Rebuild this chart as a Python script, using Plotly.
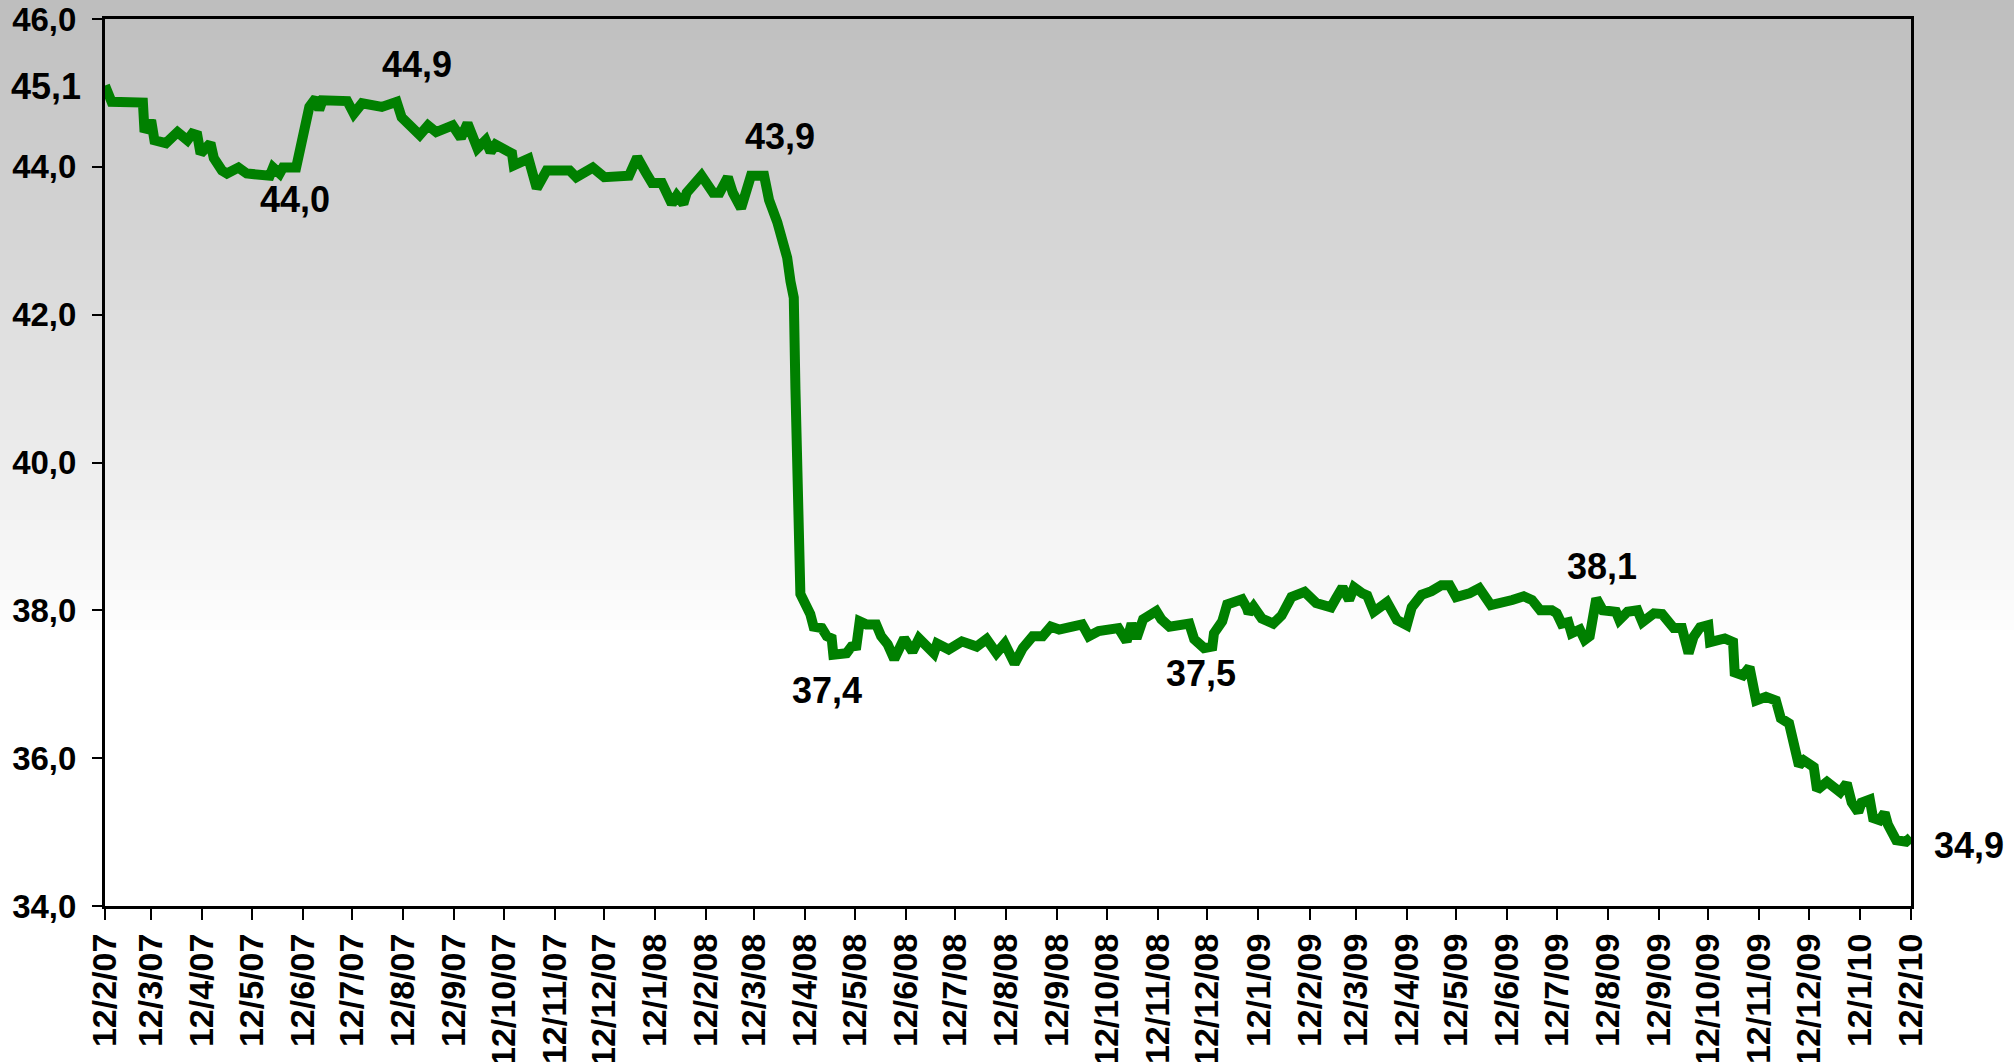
import plotly.graph_objects as go
import pandas as pd

# ---- data ----
dates = [
    "2007-02-12", "2007-02-16", "2007-03-07", "2007-03-08", "2007-03-12", "2007-03-14", "2007-03-21",
    "2007-03-28", "2007-04-03", "2007-04-06", "2007-04-09", "2007-04-11", "2007-04-17", "2007-04-19",
    "2007-04-24", "2007-04-27", "2007-05-04", "2007-05-09", "2007-05-23", "2007-05-25", "2007-05-29",
    "2007-05-31", "2007-06-08", "2007-06-12", "2007-06-16", "2007-06-20", "2007-06-22", "2007-06-24",
    "2007-07-09", "2007-07-13", "2007-07-18", "2007-07-30", "2007-08-08", "2007-08-11", "2007-08-19",
    "2007-08-22", "2007-08-27", "2007-09-01", "2007-09-11", "2007-09-16", "2007-09-20", "2007-09-26",
    "2007-10-01", "2007-10-04", "2007-10-07", "2007-10-17", "2007-10-18", "2007-10-27", "2007-11-01",
    "2007-11-07", "2007-11-21", "2007-11-25", "2007-12-05", "2007-12-12", "2007-12-27", "2008-01-01",
    "2008-01-06", "2008-01-10", "2008-01-16", "2008-01-22", "2008-01-25", "2008-01-29", "2008-01-31",
    "2008-02-09", "2008-02-16", "2008-02-20", "2008-02-25", "2008-02-28", "2008-03-04", "2008-03-10",
    "2008-03-18", "2008-03-21", "2008-03-26", "2008-03-28", "2008-04-01", "2008-04-03", "2008-04-05",
    "2008-04-06", "2008-04-07", "2008-04-08", "2008-04-09", "2008-04-15", "2008-04-17", "2008-04-22",
    "2008-04-25", "2008-04-28", "2008-04-29", "2008-05-07", "2008-05-10", "2008-05-13", "2008-05-15",
    "2008-05-19", "2008-05-25", "2008-05-28", "2008-06-01", "2008-06-05", "2008-06-11", "2008-06-16",
    "2008-06-20", "2008-06-29", "2008-07-01", "2008-07-08", "2008-07-16", "2008-07-25", "2008-07-31",
    "2008-08-06", "2008-08-11", "2008-08-17", "2008-08-22", "2008-08-28", "2008-09-03", "2008-09-08",
    "2008-09-13", "2008-09-21", "2008-09-27", "2008-10-01", "2008-10-07", "2008-10-19", "2008-10-24",
    "2008-10-27", "2008-10-30", "2008-11-03", "2008-11-11", "2008-11-14", "2008-11-19", "2008-12-01",
    "2008-12-04", "2008-12-10", "2008-12-15", "2008-12-16", "2008-12-21", "2008-12-24", "2009-01-02",
    "2009-01-05", "2009-01-06", "2009-01-09", "2009-01-14", "2009-01-21", "2009-01-26", "2009-02-01",
    "2009-02-09", "2009-02-16", "2009-02-25", "2009-02-28", "2009-03-04", "2009-03-08", "2009-03-11",
    "2009-03-16", "2009-03-19", "2009-03-23", "2009-03-31", "2009-04-06", "2009-04-12", "2009-04-15",
    "2009-04-21", "2009-04-27", "2009-05-03", "2009-05-08", "2009-05-12", "2009-05-20", "2009-05-26",
    "2009-06-02", "2009-06-09", "2009-06-15", "2009-06-22", "2009-06-27", "2009-07-02", "2009-07-09",
    "2009-07-12", "2009-07-15", "2009-07-19", "2009-07-21", "2009-07-26", "2009-07-29", "2009-08-01",
    "2009-08-05", "2009-08-09", "2009-08-17", "2009-08-19", "2009-08-24", "2009-08-30", "2009-09-02",
    "2009-09-09", "2009-09-14", "2009-09-21", "2009-09-26", "2009-09-30", "2009-10-03", "2009-10-07",
    "2009-10-12", "2009-10-13", "2009-10-22", "2009-10-27", "2009-10-28", "2009-11-02", "2009-11-06",
    "2009-11-10", "2009-11-16", "2009-11-22", "2009-11-25", "2009-11-30", "2009-12-03", "2009-12-06",
    "2009-12-09", "2009-12-15", "2009-12-17", "2009-12-23", "2009-12-31", "2010-01-04", "2010-01-07",
    "2010-01-11", "2010-01-13", "2010-01-18", "2010-01-20", "2010-01-24", "2010-01-27", "2010-01-29",
    "2010-02-03", "2010-02-09", "2010-02-12",
]

values = [
    45.10, 44.88, 44.87, 44.47, 44.63, 44.36, 44.32,
    44.47, 44.36, 44.45, 44.43, 44.18, 44.32, 44.12,
    43.95, 43.91, 43.99, 43.91, 43.88, 43.99, 43.91,
    43.99, 43.99, 44.40, 44.81, 44.93, 44.77, 44.90,
    44.89, 44.72, 44.86, 44.81, 44.88, 44.67, 44.47,
    44.43, 44.56, 44.47, 44.56, 44.39, 44.59, 44.25,
    44.36, 44.20, 44.30, 44.18, 44.02, 44.11, 43.71,
    43.95, 43.95, 43.86, 43.99, 43.86, 43.88, 44.13,
    43.93, 43.78, 43.78, 43.50, 43.61, 43.50, 43.65,
    43.88, 43.65, 43.65, 43.86, 43.65, 43.44, 43.88,
    43.88, 43.55, 43.25, 43.11, 42.77, 42.45, 42.23,
    41.00, 39.20, 38.60, 38.22, 37.95, 37.78, 37.76,
    37.65, 37.62, 37.40, 37.42, 37.51, 37.52, 37.85,
    37.81, 37.81, 37.65, 37.54, 37.34, 37.62, 37.44,
    37.62, 37.42, 37.55, 37.47, 37.58, 37.51, 37.61,
    37.42, 37.55, 37.28, 37.49, 37.65, 37.65, 37.78,
    37.74, 37.78, 37.81, 37.65, 37.72, 37.76, 37.58,
    37.82, 37.62, 37.88, 37.99, 37.88, 37.78, 37.82,
    37.61, 37.49, 37.51, 37.69, 37.85, 38.08, 38.15,
    38.03, 37.96, 38.05, 37.89, 37.82, 37.93, 38.18,
    38.25, 38.10, 38.04, 38.16, 38.31, 38.14, 38.31,
    38.23, 38.20, 37.98, 38.11, 37.87, 37.80, 38.04,
    38.21, 38.26, 38.34, 38.34, 38.18, 38.23, 38.30,
    38.07, 38.09, 38.14, 38.19, 38.14, 38.00, 38.00,
    37.96, 37.82, 37.84, 37.69, 37.74, 37.60, 37.65,
    38.16, 38.00, 37.98, 37.87, 37.98, 38.00, 37.84,
    37.96, 37.95, 37.76, 37.76, 37.42, 37.64, 37.77,
    37.80, 37.57, 37.62, 37.57, 37.16, 37.12, 37.23,
    36.78, 36.83, 36.78, 36.54, 36.47, 36.15, 35.90,
    35.97, 35.88, 35.57, 35.68, 35.54, 35.66, 35.40,
    35.27, 35.40, 35.44, 35.19, 35.16, 35.26, 35.10,
    34.89, 34.87, 34.93,
]

tick_labels = [
    "12/2/07", "12/3/07", "12/4/07", "12/5/07", "12/6/07", "12/7/07", "12/8/07", "12/9/07",
    "12/10/07", "12/11/07", "12/12/07", "12/1/08", "12/2/08", "12/3/08", "12/4/08", "12/5/08",
    "12/6/08", "12/7/08", "12/8/08", "12/9/08", "12/10/08", "12/11/08", "12/12/08", "12/1/09",
    "12/2/09", "12/3/09", "12/4/09", "12/5/09", "12/6/09", "12/7/09", "12/8/09", "12/9/09",
    "12/10/09", "12/11/09", "12/12/09", "12/1/10", "12/2/10",
]
tick_dates = pd.to_datetime(tick_labels, format="%d/%m/%y")

y_ticks = [34, 36, 38, 40, 42, 44, 46]

label_texts = ["45,1", "44,0", "44,9", "43,9", "37,4", "37,5", "38,1", "34,9"]
label_pos = [  # paper coordinates (x, y, xanchor)
    (-0.012, 0.924, "right"),
    (0.105, 0.797, "center"),
    (0.173, 0.949, "center"),
    (0.374, 0.867, "center"),
    (0.400, 0.2424, "center"),
    (0.607, 0.2616, "center"),
    (0.829, 0.383, "center"),
    (1.0115, 0.068, "left"),
]

FONT = "Liberation Sans, Arial, sans-serif"

fig = go.Figure()
fig.add_trace(go.Scatter(
    x=pd.to_datetime(dates), y=values, mode="lines",
    line=dict(color="#008000", width=10), hoverinfo="skip", showlegend=False,
))

# background gradient (gray at top fading to white)
shapes = []
W, H = 2014, 1062
top_px, bot_px = 19, 906
n_bands = 64
grad_end = 640
for i in range(n_bands):
    p0 = i * grad_end / n_bands
    p1 = (i + 1) * grad_end / n_bands + 0.6
    t = (p0 + p1) / 2 / grad_end
    c = int(round(189 + (255 - 189) * t))
    shapes.append(dict(
        type="rect", xref="paper", yref="paper", layer="below",
        x0=-0.2, x1=1.2,
        y0=(bot_px - p1) / (bot_px - top_px), y1=(bot_px - p0) / (bot_px - top_px),
        fillcolor=f"rgb({c},{c},{c})", line=dict(width=0),
    ))

annotations = []
for txt, (ax, ay, anc) in zip(label_texts, label_pos):
    annotations.append(dict(
        text=txt, x=ax, y=ay, xref="paper", yref="paper", xanchor=anc, yanchor="middle",
        showarrow=False, font=dict(family=FONT, size=36, color="black", weight="bold"),
    ))

fig.update_layout(
    width=W, height=H,
    margin=dict(l=105, r=W - 1911, t=top_px, b=H - bot_px, pad=0),
    paper_bgcolor="white", plot_bgcolor="rgba(0,0,0,0)",
    separators=",.",
    shapes=shapes, annotations=annotations,
    showlegend=False,
)
fig.update_xaxes(
    type="date", range=[tick_dates[0], tick_dates[-1]],
    tickmode="array", tickvals=tick_dates, ticktext=tick_labels,
    tickangle=-90, ticks="outside", ticklen=11, tickwidth=2, tickcolor="black",
    showline=True, linecolor="black", linewidth=3, mirror=True,
    showgrid=False, zeroline=False, automargin=False,
    tickfont=dict(family=FONT, size=34, color="black", weight="bold"),
)
fig.update_yaxes(
    range=[34, 46], tickmode="array", tickvals=y_ticks, tickformat=".1f",
    ticks="outside", ticklen=10, tickwidth=2, tickcolor="black",
    showline=True, linecolor="black", linewidth=3, mirror=True,
    showgrid=False, zeroline=False, automargin=False, ticklabelstandoff=9,
    tickfont=dict(family=FONT, size=33, color="black", weight="bold"),
)

fig.write_html(
    "out.html",
    config={"displayModeBar": False},
    post_script="document.body.style.margin='0';document.body.style.overflow='hidden';",
)
